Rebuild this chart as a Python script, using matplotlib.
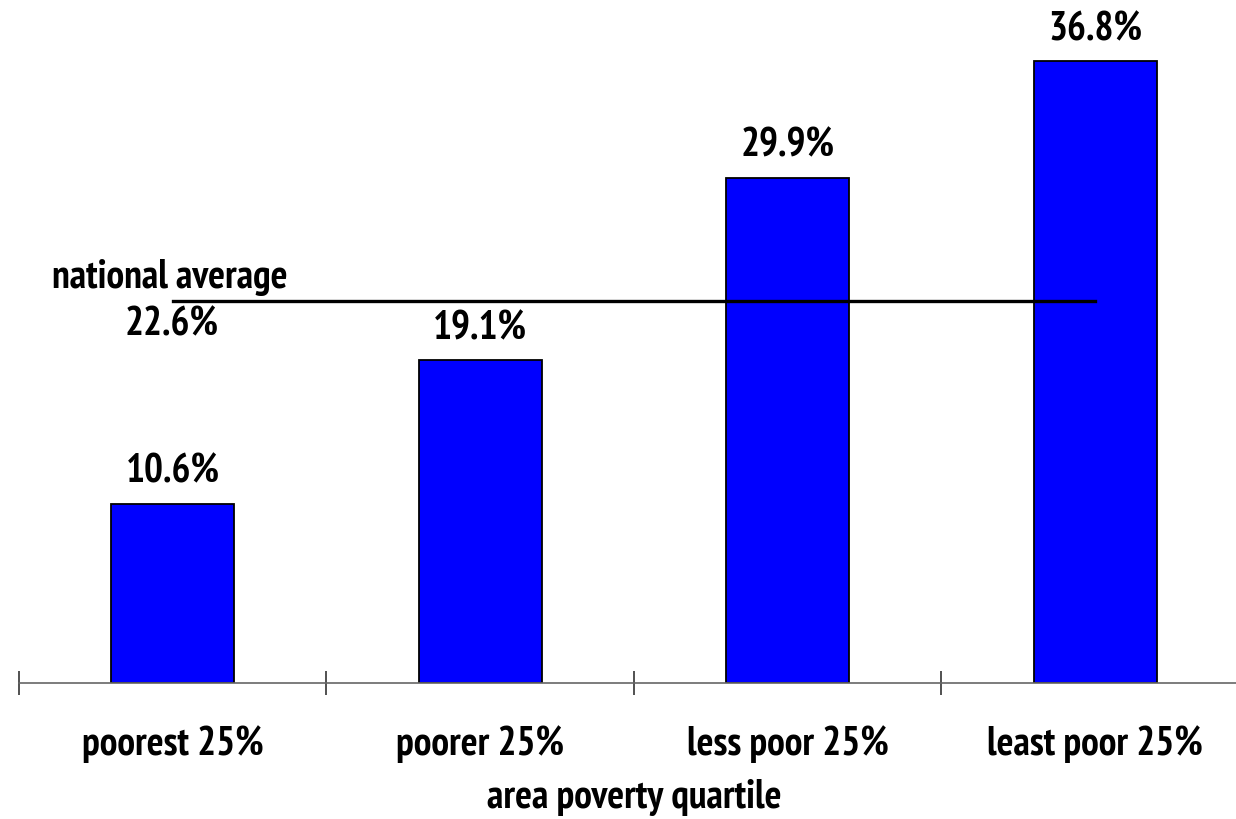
import matplotlib
matplotlib.use("Agg")
import matplotlib.pyplot as plt
from matplotlib import font_manager

categories = ["poorest 25%", "poorer 25%", "less poor 25%", "least poor 25%"]
values = [10.6, 19.1, 29.9, 36.8]
national_average = 22.6
xlabel = "area poverty quartile"

bold_names = {f.name for f in font_manager.fontManager.ttflist
              if (isinstance(f.weight, int) and f.weight >= 700) or f.weight == "bold"}
fam = "Liberation Sans"
for cand in ["Liberation Sans Narrow", "Arial Narrow", "Archivo Narrow", "PT Sans Narrow",
             "Pragati Narrow", "Roboto Condensed", "Asap Condensed", "Encode Sans Condensed",
             "IBM Plex Sans Condensed", "Fira Sans Condensed", "Barlow Semi Condensed",
             "Sofia Sans Condensed", "Open Sans Condensed"]:
    if cand in bold_names:
        fam = cand
        break
plt.rcParams['font.family'] = [fam, 'DejaVu Sans']

W, H = 1236, 820
fig = plt.figure(figsize=(W / 100, H / 100), dpi=100)
ax = fig.add_axes([19 / W, 1 - 684 / H, 1 - 19 / W, (684 - 8) / H])

x = list(range(len(categories)))
ax.bar(x, values, width=0.4, color="#0000ff", edgecolor="black", linewidth=1.3, zorder=2)
ax.set_xlim(-0.5, 3.5 - 13 / 307.6)
ax.set_ylim(0, 40)

fs = 28.5
for xi, v in zip(x, values):
    ax.annotate(f"{v:.1f}%", (xi, v), xytext=(0, 22), textcoords="offset pixels",
                ha="center", va="baseline", fontsize=fs, fontweight="bold")

ax.plot([0, 3], [national_average, national_average], color="black", lw=2.4, zorder=3)
ax.annotate("national average", (0, national_average), xytext=(-121, 14), textcoords="offset pixels",
            ha="left", va="baseline", fontsize=fs, fontweight="bold")
ax.annotate(f"{national_average:.1f}%", (0, national_average), xytext=(-48, -33), textcoords="offset pixels",
            ha="left", va="baseline", fontsize=fs, fontweight="bold")

for s in ["top", "right", "left"]:
    ax.spines[s].set_visible(False)
ax.spines["bottom"].set_color("#666666")
ax.spines["bottom"].set_linewidth(1.2)
ax.set_yticks([])
ax.set_xticks([-0.5, 0.5, 1.5, 2.5])
ax.set_xticklabels([])
ax.tick_params(axis="x", direction="inout", length=17, width=1.2, color="#333333")

for xi, c in zip(x, categories):
    ax.annotate(c, (xi, 0), xytext=(0, -71), textcoords="offset pixels",
                ha="center", va="baseline", fontsize=fs, fontweight="bold", annotation_clip=False)

fig.text(634 / W, 1 - 808 / H, xlabel, ha="center", va="baseline", fontsize=fs, fontweight="bold")

fig.savefig("out.png", dpi=100)
